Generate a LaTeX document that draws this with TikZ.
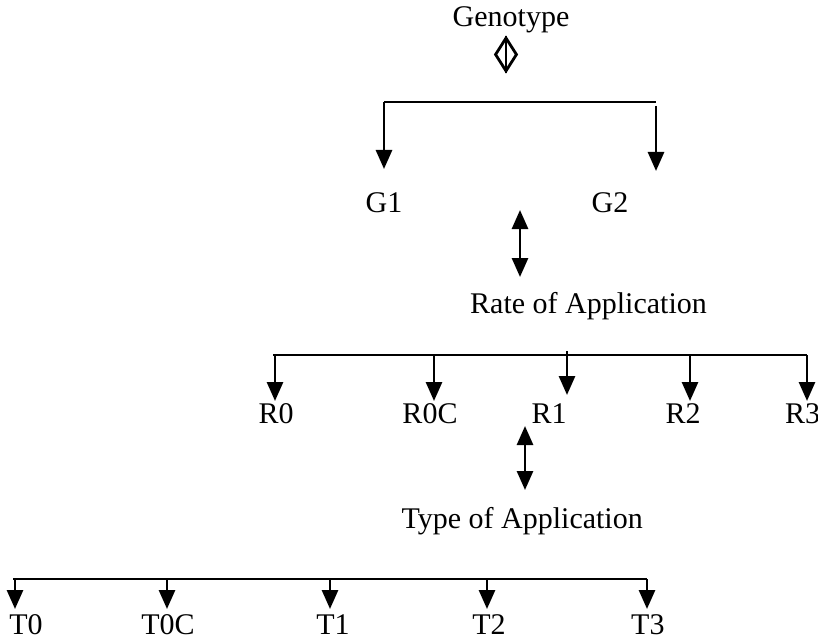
\documentclass[tikz,border=0pt]{standalone}
\usepackage{fontspec}
\setmainfont{Liberation Serif}
\usetikzlibrary{arrows.meta,shapes.geometric}
\begin{document}
\begin{tikzpicture}[x=1pt,y=-1pt,
  lbl/.style={font=\fontsize{30}{36}\selectfont, inner sep=0pt, anchor=base},
  ln/.style={line width=2.8pt},
  arr/.style={line width=2.8pt, -{Triangle[width=16pt,length=19pt]}},
  darr/.style={line width=2.8pt, {Triangle[width=16pt,length=19pt]}-{Triangle[width=16pt,length=19pt]}}]
\useasboundingbox (0,0) rectangle (818,639);
\clip (0,0) rectangle (818,639);
% Genotype
\node[lbl] (geno) at (511,27) {Genotype};
\node[draw, diamond, minimum width=22pt, minimum height=34pt, inner sep=0pt, line width=2.8pt] (dia) at (506,54.5) {};
\draw[ln] (dia.north) -- (dia.south);
% first bracket
\coordinate (b1L) at (384,102);
\coordinate (b1R) at (656,102);
\coordinate (b1Rs) at (656,106);
\coordinate (tG1) at (384,169);
\coordinate (tG2) at (656,171);
\draw[ln] (b1L) -- (b1R);
\draw[arr] (b1L) -- (tG1);
\draw[arr] (b1Rs) -- (tG2);
\node[lbl] (g1) at (384,212) {G1};
\node[lbl] (g2) at (610,212) {G2};
% double arrow 1
\coordinate (d1t) at (520,210);
\coordinate (d1b) at (520,277);
\draw[darr] (d1t) -- (d1b);
\node[lbl, anchor=base west] (rate) at (470,313) {Rate of Application};
% second bracket
\coordinate (b2L) at (273,355);
\coordinate (b2R) at (807,355);
\draw[ln] (b2L) -- (b2R);
\foreach \x/\n in {275/r0, 434/r0c, 690/r2, 807/r3}{
  \coordinate (s\n) at (\x,355);
  \coordinate (t\n) at (\x,401);
  \draw[arr] (s\n) -- (t\n);
}
\coordinate (sr1) at (567,351);
\coordinate (tr1) at (567,395);
\draw[arr] (sr1) -- (tr1);
\node[lbl] (R0) at (276,423) {R0};
\node[lbl] (R0C) at (430,423) {R0C};
\node[lbl] (R1) at (549,423) {R1};
\node[lbl] (R2) at (683,423) {R2};
\node[lbl, anchor=base west] (R3) at (785,423) {R3};
% double arrow 2
\coordinate (d2t) at (525,426);
\coordinate (d2b) at (525,490);
\draw[darr] (d2t) -- (d2b);
\node[lbl, anchor=base east] (type) at (643,528) {Type of Application};
% third bracket
\coordinate (b3L) at (13,579);
\coordinate (b3R) at (647,579);
\draw[ln] (b3L) -- (b3R);
\foreach \x/\n in {15/t0, 167/t0c, 330/t1, 487/t2, 647/t3}{
  \coordinate (s\n) at (\x,579);
  \coordinate (e\n) at (\x,609);
  \draw[arr] (s\n) -- (e\n);
}
\node[lbl] (T0) at (26,634) {T0};
\node[lbl] (T0C) at (168,634) {T0C};
\node[lbl] (T1) at (333,634) {T1};
\node[lbl] (T2) at (489,634) {T2};
\node[lbl, anchor=base west] (T3) at (631,634) {T3};
\end{tikzpicture}
\end{document}
